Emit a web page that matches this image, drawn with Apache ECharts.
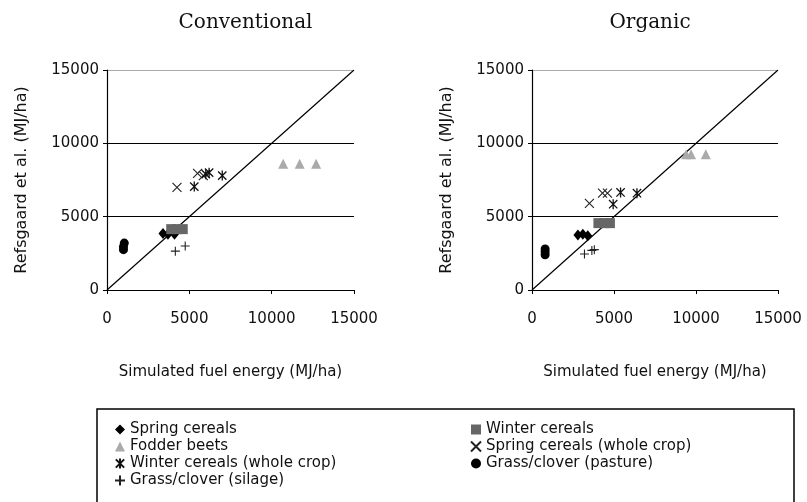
<!DOCTYPE html>
<html>
<head>
<meta charset="utf-8">
<script src="https://cdn.jsdelivr.net/npm/echarts@6/dist/echarts.min.js"></script>
<style>
    html, body {margin: 0; padding: 0; background: #fff;}
    #chart {width: 807px; height: 502px;}
</style>
</head>
<body>
<div id="chart"></div>
<script>
// series names (legend order)
let seriesNames = ['Spring cereals', 'Winter cereals', 'Fodder beets', 'Spring cereals (whole crop)',
    'Winter cereals (whole crop)', 'Grass/clover (pasture)', 'Grass/clover (silage)'];
let panelTitles = ['Conventional', 'Organic'];
let tickValues = [0, 5000, 10000, 15000];

// Conventional  [simulated, Refsgaard]
let convSpring = [[3400, 3850], [3700, 3800], [4100, 3800]];
let convWinter = [[3900, 4150], [4250, 4150], [4600, 4150]];
let convFodder = [[10700, 8600], [11700, 8600], [12700, 8600]];
let convSpringWhole = [[4250, 7000], [5500, 7950], [5850, 7800]];
let convWinterWhole = [[5300, 7050], [6000, 7900], [6200, 8000], [7000, 7800]];
let convPasture = [[1050, 3200], [1000, 2950], [1000, 2750]];
let convSilage = [[4150, 2650], [4750, 3000]];

// Organic
let orgSpring = [[2800, 3750], [3100, 3800], [3400, 3700]];
let orgWinter = [[4050, 4560], [4400, 4560], [4750, 4560]];
let orgFodder = [[9400, 9250], [9700, 9250], [10600, 9250]];
let orgSpringWhole = [[3500, 5900], [4300, 6600], [4600, 6600]];
let orgWinterWhole = [[4950, 5850], [5400, 6650], [6400, 6600]];
let orgPasture = [[800, 2800], [800, 2600], [800, 2400]];
let orgSilage = [[3200, 2450], [3650, 2700], [3800, 2750]];

let oneToOne = [[0, 0], [15000, 15000]];

let panels = [
    [convSpring, convWinter, convFodder, convSpringWhole, convWinterWhole, convPasture, convSilage],
    [orgSpring, orgWinter, orgFodder, orgSpringWhole, orgWinterWhole, orgPasture, orgSilage]
];

// marker look for each series
let markers = [
    {symbol: 'diamond', size: [9, 11], style: {color: '#000'}},
    {symbol: 'rect', size: 10, style: {color: '#666'}},
    {symbol: 'triangle', size: 10, style: {color: '#aaa'}},
    {symbol: 'path://M0,0L10,10M10,0L0,10', size: 9, style: {color: '#000', borderColor: '#222', borderWidth: 1.1}},
    {symbol: 'path://M0,0L10,10M10,0L0,10M5,-1L5,11', size: 10, style: {color: '#000', borderColor: '#111', borderWidth: 1.3}},
    {symbol: 'circle', size: 9, style: {color: '#000'}},
    {symbol: 'path://M5,0L5,10M0,5L10,5', size: 9, style: {color: '#000', borderColor: '#222', borderWidth: 1.1}}
];

let grids = [
    {left: 107, top: 70, width: 247, height: 220},
    {left: 532, top: 70, width: 246, height: 220}
];

let axisFont = 'DejaVu Sans';
let plainNumber = v => tickValues.indexOf(v) >= 0 ? String(v) : '';
let xAxes = [], yAxes = [], series = [], titles = [];

grids.forEach((g, i) => {
    titles.push({
        text: panelTitles[i],
        left: g.left + g.width / 2 + (i === 0 ? 10 : -10),
        top: 8,
        textAlign: 'center',
        textStyle: {fontFamily: 'DejaVu Serif', fontSize: 20, fontWeight: 'normal', color: '#111'}
    });
    xAxes.push({
        gridIndex: i,
        type: 'value',
        min: 0,
        max: 15000,
        interval: 5000,
        name: 'Simulated fuel energy (MJ/ha)',
        nameLocation: 'middle',
        nameGap: 75,
        nameTextStyle: {fontFamily: axisFont, fontSize: 15, color: '#111', verticalAlign: 'top'},
        axisLine: {lineStyle: {color: '#000', width: 1.2}},
        axisTick: {show: true, length: 4, lineStyle: {color: '#000'}},
        axisLabel: {margin: 22, fontFamily: axisFont, fontSize: 15, color: '#111', formatter: plainNumber},
        splitLine: {show: false}
    });
    yAxes.push({
        gridIndex: i,
        type: 'value',
        min: 0,
        max: 15000,
        interval: 5000,
        name: 'Refsgaard et al. (MJ/ha)',
        nameLocation: 'middle',
        nameGap: 77,
        nameTextStyle: {fontFamily: axisFont, fontSize: 16, color: '#111'},
        axisLine: {show: true, lineStyle: {color: '#000', width: 1.2}},
        axisTick: {show: true, length: 4, lineStyle: {color: '#000'}},
        axisLabel: {margin: 8, fontFamily: axisFont, fontSize: 15, color: '#111', formatter: plainNumber},
        splitLine: {show: true, lineStyle: {color: ['#000', '#000', '#000', '#aaa'], width: 1.2}}
    });

    // 1:1 line
    series.push({
        type: 'line',
        xAxisIndex: i,
        yAxisIndex: i,
        data: oneToOne,
        showSymbol: false,
        silent: true,
        z: 1,
        lineStyle: {color: '#000', width: 1.2}
    });

    panels[i].forEach((data, k) => {
        series.push({
            name: seriesNames[k],
            type: 'scatter',
            xAxisIndex: i,
            yAxisIndex: i,
            data: data,
            symbol: markers[k].symbol,
            symbolSize: markers[k].size,
            symbolKeepAspect: true,
            itemStyle: Object.assign({opacity: 1}, markers[k].style),
            z: 3
        });
    });
});

let legendText = {fontFamily: axisFont, fontSize: 15, color: '#111', lineHeight: 17};

let chart = echarts.init(document.getElementById('chart'));
chart.setOption({
    animation: false,
    title: titles,
    grid: grids,
    xAxis: xAxes,
    yAxis: yAxes,
    legend: [
        {
            orient: 'vertical',
            left: 109,
            top: 416,
            itemWidth: 10,
            itemHeight: 10,
            itemGap: 0,
            textStyle: legendText,
            data: [seriesNames[0], seriesNames[2], seriesNames[4], seriesNames[6]]
        },
        {
            orient: 'vertical',
            left: 465,
            top: 416,
            itemWidth: 10,
            itemHeight: 10,
            itemGap: 0,
            textStyle: legendText,
            data: [seriesNames[1], seriesNames[3], seriesNames[5]]
        }
    ],
    graphic: [
        {
            type: 'rect',
            shape: {x: 97, y: 409, width: 697, height: 120},
            style: {fill: 'none', stroke: '#000', lineWidth: 1.5},
            silent: true
        }
    ],
    series: series
});
</script>
</body>
</html>
